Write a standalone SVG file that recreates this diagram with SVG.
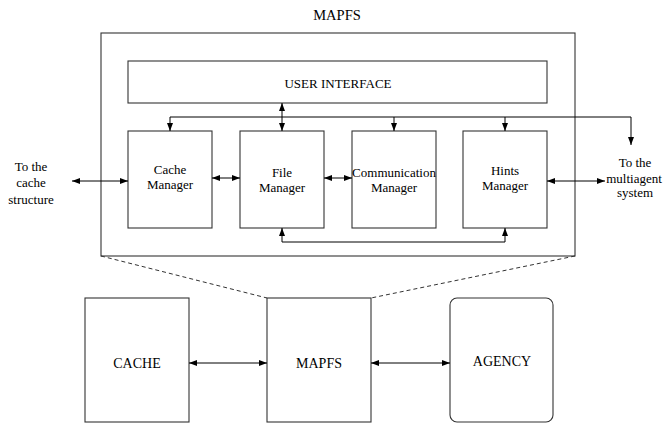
<svg xmlns="http://www.w3.org/2000/svg" width="664" height="424" viewBox="0 0 664 424">
<style>
.box{fill:none;stroke:#333;stroke-width:1.1}
.ln{fill:none;stroke:#000;stroke-width:1}
.dash{fill:none;stroke:#333;stroke-width:1;stroke-dasharray:4 3}
text{font-family:"Liberation Serif","Times New Roman",serif;fill:#000;text-anchor:middle}
.s13{font-size:13px}
.s14{font-size:14px}
</style>
<defs>
<marker id="ah" viewBox="0 0 8 6" refX="8" refY="3" markerWidth="8" markerHeight="6" markerUnits="userSpaceOnUse" orient="auto-start-reverse">
<path d="M0,0 L8,3 L0,6 Z" fill="#000"/>
</marker>
</defs>
<text class="s14" x="337" y="20" style="font-size:14.5px">MAPFS</text>
<g id="mapfs-detail"><rect class="box" x="101" y="33" width="474" height="223"/></g>
<g id="user-interface"><rect class="box" x="128" y="61" width="419" height="42"/><text class="s13" x="338" y="87.5">USER INTERFACE</text></g>
<g id="cache-manager"><rect class="box" x="128" y="131" width="84" height="97"/><text class="s13" x="170" y="174">Cache</text><text class="s13" x="170" y="189">Manager</text></g>
<g id="file-manager"><rect class="box" x="240" y="131" width="84" height="97"/><text class="s13" x="282" y="177">File</text><text class="s13" x="282" y="192">Manager</text></g>
<g id="communication-manager"><rect class="box" x="352" y="131" width="84" height="97"/><text class="s13" x="394" y="177">Communication</text><text class="s13" x="394" y="192">Manager</text></g>
<g id="hints-manager"><rect class="box" x="463" y="131" width="84" height="97"/><text class="s13" x="505" y="175">Hints</text><text class="s13" x="505" y="190">Manager</text></g>
<g id="to-cache-structure"><text class="s13" x="31" y="171">To the</text><text class="s13" x="31" y="187">cache</text><text class="s13" x="31" y="204">structure</text></g>
<g id="to-multiagent"><text class="s13" x="635" y="167">To the</text><text class="s13" x="634" y="183">multiagent</text><text class="s13" x="635" y="197">system</text></g>
<g id="cache"><rect class="box" x="85" y="298" width="104" height="124"/><text class="s14" x="137" y="368">CACHE</text></g>
<g id="mapfs"><rect class="box" x="267" y="298" width="104" height="124"/><text class="s14" x="319" y="368">MAPFS</text></g>
<g id="agency"><rect class="box" x="450" y="298" width="103" height="124" rx="7"/><text class="s14" x="502" y="366">AGENCY</text></g>
<g id="connectors">
<line class="ln" x1="282" y1="103" x2="282" y2="131" marker-start="url(#ah)" marker-end="url(#ah)"/>
<polyline class="ln" points="170,131 170,117 631,117 631,145" marker-start="url(#ah)" marker-end="url(#ah)"/>
<line class="ln" x1="394" y1="117" x2="394" y2="131" marker-end="url(#ah)"/>
<line class="ln" x1="505" y1="117" x2="505" y2="131" marker-end="url(#ah)"/>
<polyline class="ln" points="282,228 282,242 505,242 505,228" marker-start="url(#ah)" marker-end="url(#ah)"/>
<line class="ln" x1="212" y1="178" x2="240" y2="178" marker-start="url(#ah)" marker-end="url(#ah)"/>
<line class="ln" x1="324" y1="178" x2="352" y2="178" marker-start="url(#ah)" marker-end="url(#ah)"/>
<line class="ln" x1="72" y1="181" x2="128" y2="181" marker-start="url(#ah)" marker-end="url(#ah)"/>
<line class="ln" x1="547" y1="181" x2="605" y2="181" marker-start="url(#ah)" marker-end="url(#ah)"/>
<line class="ln" x1="189" y1="363" x2="267" y2="363" marker-start="url(#ah)" marker-end="url(#ah)"/>
<line class="ln" x1="371" y1="363" x2="450" y2="363" marker-start="url(#ah)" marker-end="url(#ah)"/>
<line class="dash" x1="101" y1="256" x2="267" y2="298"/>
<line class="dash" x1="575" y1="256" x2="371" y2="298"/>
</g>
</svg>
